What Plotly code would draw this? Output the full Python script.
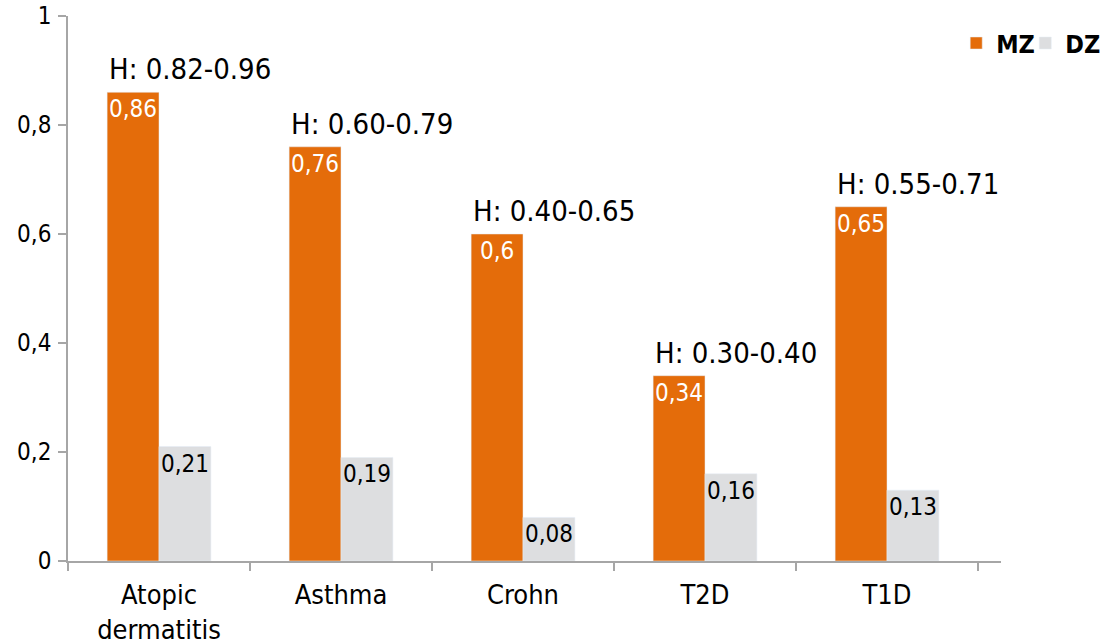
import plotly.graph_objects as go

categories = ["Atopic<br>dermatitis", "Asthma", "Crohn", "T2D", "T1D"]
mz_values = [0.86, 0.76, 0.6, 0.34, 0.65]
dz_values = [0.21, 0.19, 0.08, 0.16, 0.13]
h_labels = ["H: 0.82-0.96", "H: 0.60-0.79", "H: 0.40-0.65", "H: 0.30-0.40", "H: 0.55-0.71"]
y_ticks = [0, 0.2, 0.4, 0.6, 0.8, 1]

ORANGE = "#E46C0A"
GREY = "#DDDEE0"
AXIS = "#A6A6A6"
FONT = "DejaVu Sans Condensed, DejaVu Sans"

fig = go.Figure()
fig.add_trace(go.Bar(
    name="<b>MZ</b>", x=categories, y=mz_values, marker_color=ORANGE,
    texttemplate="%{y}", textposition="inside", insidetextanchor="end",
    constraintext="none", textangle=0, legend="legend",
    insidetextfont=dict(color="white", size=24, family=FONT),
))
fig.add_trace(go.Bar(
    name="<b>DZ</b>", x=categories, y=dz_values, marker_color=GREY,
    texttemplate="%{y}", textposition="inside", insidetextanchor="end",
    constraintext="none", textangle=0, legend="legend2",
    insidetextfont=dict(color="black", size=24, family=FONT),
))

for cat, val, lab in zip(categories, mz_values, h_labels):
    fig.add_annotation(x=cat, y=val, text=lab, showarrow=False,
                       xanchor="left", yanchor="bottom", xshift=-52, yshift=4,
                       font=dict(size=29, color="black", family=FONT))

legend_style = dict(orientation="h", xanchor="left", yanchor="middle", y=0.95,
                    font=dict(size=25, color="black", family=FONT),
                    itemwidth=30, bgcolor="rgba(0,0,0,0)", borderwidth=0)

fig.update_layout(
    width=1110, height=644,
    margin=dict(l=68, r=109, t=16, b=83, autoexpand=False),
    paper_bgcolor="white", plot_bgcolor="white",
    barmode="group", bargap=0.43, bargroupgap=0,
    separators=",.",
    font=dict(family=FONT, size=24, color="black"),
    showlegend=True,
    legend=dict(x=0.952, **legend_style),
    legend2=dict(x=1.026, **legend_style),
)
fig.update_yaxes(range=[0, 1], tickvals=y_ticks, showgrid=False, zeroline=False,
                 automargin=False, ticklabeloverflow="allow",
                 showline=True, linecolor=AXIS, linewidth=1.5,
                 ticks="outside", ticklen=8, tickcolor=AXIS, tickwidth=1.5,
                 ticklabelstandoff=2,
                 tickfont=dict(size=24, family=FONT))
fig.update_xaxes(showgrid=False, showline=True, linecolor=AXIS, linewidth=1.5,
                 automargin=False, ticklabeloverflow="allow",
                 ticks="outside", tickson="boundaries", ticklen=8,
                 tickcolor=AXIS, tickwidth=1.5, ticklabelstandoff=9,
                 tickfont=dict(size=27, family=FONT))

fig.write_html("out.html",
               config={"displayModeBar": False},
               post_script="document.body.style.margin='0';")
